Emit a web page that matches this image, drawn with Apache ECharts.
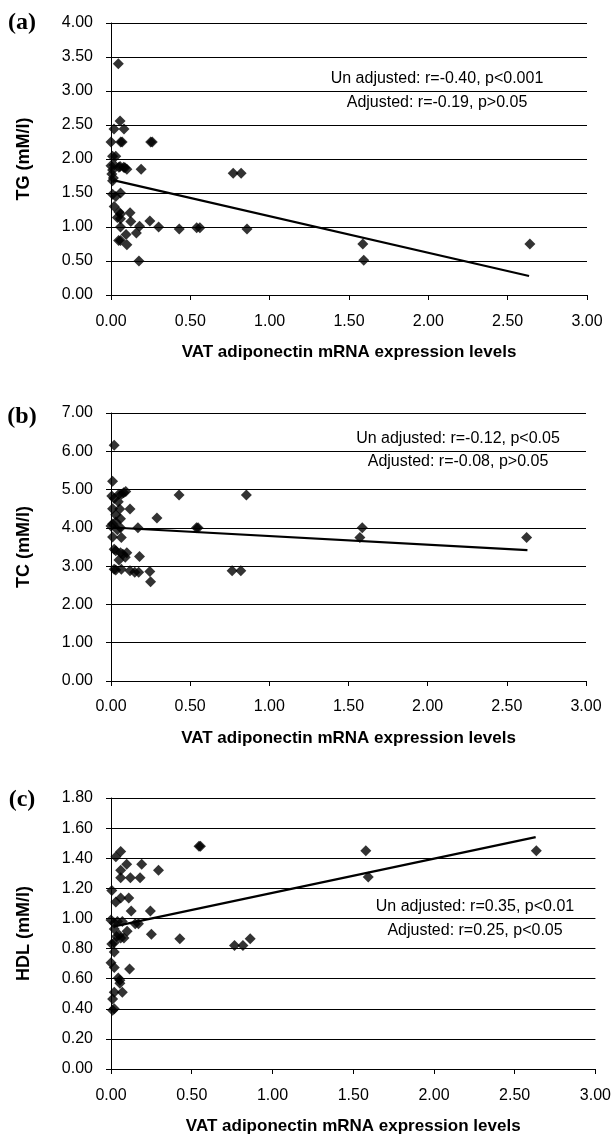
<!DOCTYPE html>
<html><head><meta charset="utf-8">
<script src="https://cdn.jsdelivr.net/npm/echarts@6/dist/echarts.min.js"></script>
<style>html,body{margin:0;padding:0;background:#fff}#c{width:614px;height:1136px}</style>
</head><body><div id="c"></div>
<script>
const xTitle = 'VAT adiponectin mRNA expression levels';
const yTitles = ['TG (mM/l)', 'TC (mM/l)', 'HDL (mM/l)'];
const panelLabels = ['(a)', '(b)', '(c)'];
const annotA = ['Un adjusted: r=-0.40, p<0.001', 'Adjusted: r=-0.19, p>0.05'];
const annotB = ['Un adjusted: r=-0.12, p<0.05', 'Adjusted: r=-0.08, p>0.05'];
const annotC = ['Un adjusted: r=0.35, p<0.01', 'Adjusted: r=0.25, p<0.05'];

const tgPoints = [[0.046,3.40],[0.057,2.56],[0.019,2.44],[0.082,2.44],[0.0,2.25],[0.061,2.25],[0.07,2.25],[0.25,2.25],[0.26,2.25],[0.01,2.04],[0.03,2.04],[0.0,1.90],[0.02,1.91],[0.05,1.88],[0.08,1.88],[0.10,1.85],[0.19,1.85],[0.77,1.79],[0.82,1.79],[0.005,1.78],[0.01,1.68],[0.015,1.72],[0.057,1.89],[0.088,1.87],[0.01,1.84],[0.01,1.48],[0.03,1.45],[0.06,1.50],[0.02,1.30],[0.05,1.22],[0.06,1.19],[0.12,1.21],[0.04,1.14],[0.06,1.12],[0.125,1.08],[0.245,1.09],[0.06,1.0],[0.18,1.01],[0.30,1.0],[0.43,0.97],[0.54,0.99],[0.56,0.99],[0.857,0.97],[0.048,0.80],[0.06,0.80],[0.095,0.89],[0.16,0.91],[0.10,0.74],[0.176,0.50],[1.587,0.75],[1.593,0.51],[2.64,0.75]];
const tcPoints = [[0.02,6.16],[0.01,5.22],[0.005,4.83],[0.02,4.77],[0.046,4.68],[0.05,4.88],[0.066,4.88],[0.08,4.92],[0.093,4.95],[0.01,4.5],[0.055,4.49],[0.12,4.49],[0.03,4.34],[0.06,4.24],[0.29,4.26],[0.43,4.86],[0.855,4.86],[0.0,4.05],[0.01,4.1],[0.03,4.15],[0.04,3.95],[0.06,4.0],[0.17,4.0],[0.54,4.0],[0.55,4.0],[0.01,3.76],[0.065,3.75],[0.02,3.44],[0.03,3.40],[0.06,3.35],[0.075,3.31],[0.10,3.35],[0.05,3.16],[0.09,3.23],[0.18,3.25],[0.02,2.92],[0.065,2.92],[0.03,2.90],[0.12,2.88],[0.15,2.84],[0.175,2.84],[0.245,2.86],[0.25,2.59],[0.765,2.88],[0.82,2.88],[1.572,3.75],[1.587,4.0],[2.625,3.75]];
const hdlPoints = [[0.545,1.48],[0.554,1.48],[0.06,1.445],[0.03,1.41],[0.097,1.36],[0.19,1.36],[0.06,1.32],[0.294,1.32],[0.06,1.27],[0.12,1.27],[0.18,1.27],[0.005,1.185],[0.03,1.11],[0.06,1.135],[0.11,1.135],[0.125,1.05],[0.244,1.05],[0.0,0.99],[0.02,0.97],[0.04,0.98],[0.07,0.98],[0.15,0.965],[0.17,0.965],[0.02,0.93],[0.035,0.88],[0.06,0.87],[0.08,0.87],[0.10,0.915],[0.05,0.89],[0.25,0.895],[0.426,0.865],[0.765,0.82],[0.817,0.82],[0.862,0.865],[0.005,0.83],[0.02,0.84],[0.02,0.777],[0.0,0.706],[0.02,0.675],[0.115,0.665],[0.045,0.605],[0.055,0.59],[0.055,0.57],[0.02,0.51],[0.07,0.51],[0.01,0.465],[0.02,0.40],[0.01,0.39],[1.578,1.45],[1.593,1.276],[2.634,1.45]];

const tgTrend = [[0.013,1.69],[2.635,0.28]];
const tcTrend = [[0.01,4.01],[2.63,3.42]];
const hdlTrend = [[0.02,0.947],[2.63,1.54]];

const xMax = 3, xStep = 0.5;
const yRanges = [[0,4,0.5],[0,7,1],[0,1.8,0.2]];

const grids = [
  {left:111, top:23, width:476, height:272},
  {left:111, top:413, width:475, height:268},
  {left:111, top:798, width:486, height:272}
];
const font = 'Liberation Sans, Arial, sans-serif';
const fmt = v => v.toFixed(2);

const xAxes = grids.map((g,i)=>({
  type:'value', gridIndex:i, min:0, max:xMax, interval:xStep,
  name:xTitle, nameLocation:'middle', nameGap:49,
  nameTextStyle:{fontFamily:font, fontWeight:'bold', fontSize:17, color:'#000'},
  axisLine:{show:true, lineStyle:{color:'#000', width:1}},
  axisTick:{show:true, length:5, lineStyle:{color:'#000'}},
  splitLine:{show:false},
  axisLabel:{formatter:fmt, fontFamily:font, fontSize:16, color:'#000', margin:[19,18,19][i]}
}));
const yAxes = grids.map((g,i)=>({
  type:'value', gridIndex:i, min:yRanges[i][0], max:yRanges[i][1], interval:yRanges[i][2],
  name:yTitles[i], nameLocation:'middle', nameGap:78, nameRotate:90,
  nameTextStyle:{fontFamily:font, fontWeight:'bold', fontSize:18, color:'#000'},
  axisLine:{show:true, lineStyle:{color:'#000', width:1}},
  axisTick:{show:true, length:5, lineStyle:{color:'#000'}},
  splitLine:{show:true, lineStyle:{color:'#000', width:1}},
  axisLabel:{formatter:fmt, fontFamily:font, fontSize:16, color:'#000', margin:18}
}));

const pts = [tgPoints, tcPoints, hdlPoints];
const trends = [tgTrend, tcTrend, hdlTrend];
const series = [];
pts.forEach((p,i)=>{
  series.push({type:'line', xAxisIndex:i, yAxisIndex:i, data:trends[i], symbol:'none',
    lineStyle:{color:'#000', width:2.2}, z:3, silent:true, animation:false});
  series.push({type:'scatter', xAxisIndex:i, yAxisIndex:i, data:p, symbol:'diamond',
    symbolSize:11, itemStyle:{color:'#000'}, z:4, animation:false});
});

const annots = [[annotA,437,79,103],[annotB,458,439,462],[annotC,475,907,931]];
const labelY = [23, 417, 800];

const option = {
  animation:false,
  backgroundColor:'#fff',
  grid: grids,
  xAxis: xAxes,
  yAxis: yAxes,
  series: series,
  graphic: [
    ...annots.flatMap(([lines,cx,y1,y2])=>[
      {type:'text', x:cx, y:y1, style:{text:lines[0], textAlign:'center', textVerticalAlign:'middle', font:'16px '+font, fill:'#000'}},
      {type:'text', x:cx, y:y2, style:{text:lines[1], textAlign:'center', textVerticalAlign:'middle', font:'16px '+font, fill:'#000'}}
    ]),
    ...panelLabels.map((t,i)=>({type:'text', x:22, y:labelY[i], style:{text:t, textAlign:'center', textVerticalAlign:'middle', font:'bold 24px "Liberation Serif", "Times New Roman", serif', fill:'#000'}}))
  ]
};
const chart = echarts.init(document.getElementById('c'), null, {renderer:'canvas'});
chart.setOption(option);
</script></body></html>
